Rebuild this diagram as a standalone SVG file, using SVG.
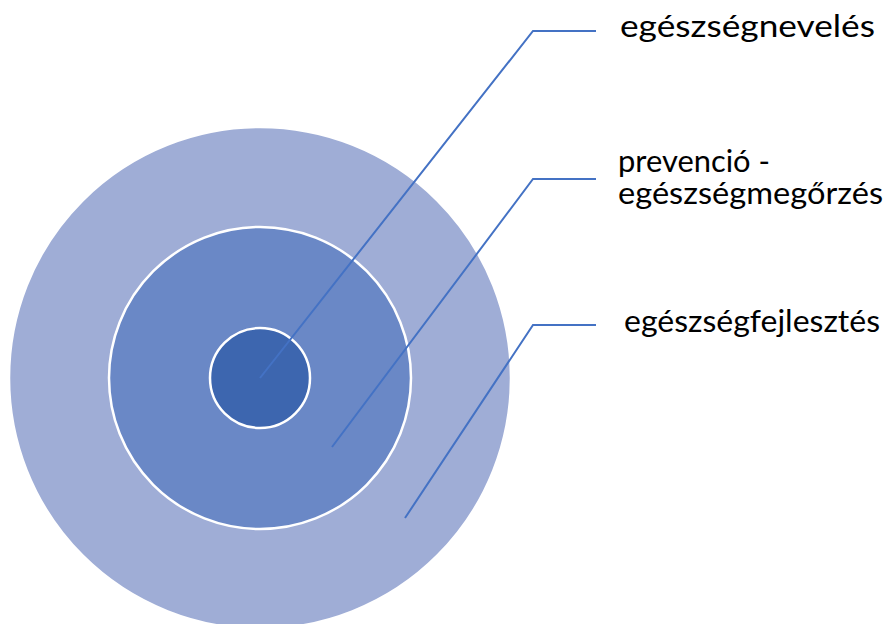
<svg xmlns="http://www.w3.org/2000/svg" width="892" height="624" viewBox="0 0 892 624">
  <style>
    .ring { stroke: #FFFFFF; stroke-width: 2.5; }
    .conn { fill: none; stroke: #4472C4; stroke-width: 2; stroke-linejoin: miter; }
    .lbl { font-family: Lato, "Liberation Sans", Arial, sans-serif; font-size: 30px; fill: #000000; }
  </style>
  <rect x="0" y="0" width="892" height="624" fill="#FFFFFF"/>
  <g id="node-egeszsegfejlesztes">
    <circle class="ring" cx="260" cy="378" r="251" fill="#9FADD6"/>
  </g>
  <g id="node-prevencio">
    <circle class="ring" cx="260" cy="378" r="151" fill="#6A88C6"/>
  </g>
  <g id="node-egeszsegneveles">
    <circle class="ring" cx="260" cy="378" r="50" fill="#3D66AF"/>
  </g>
  <g id="connectors">
    <polyline class="conn" points="260,378 533,31 596,31"/>
    <polyline class="conn" points="332,447 533,179 596,179"/>
    <polyline class="conn" points="405,518 533,325 596,325"/>
  </g>
  <g id="labels">
    <text class="lbl" x="620" y="37" textLength="255" lengthAdjust="spacingAndGlyphs">egészségnevelés</text>
    <text class="lbl" x="618" y="172" textLength="152" lengthAdjust="spacingAndGlyphs">prevenció -</text>
    <text class="lbl" x="618" y="204" textLength="265" lengthAdjust="spacingAndGlyphs">egészségmegőrzés</text>
    <text class="lbl" x="624" y="332" textLength="256" lengthAdjust="spacingAndGlyphs">egészségfejlesztés</text>
  </g>
</svg>
